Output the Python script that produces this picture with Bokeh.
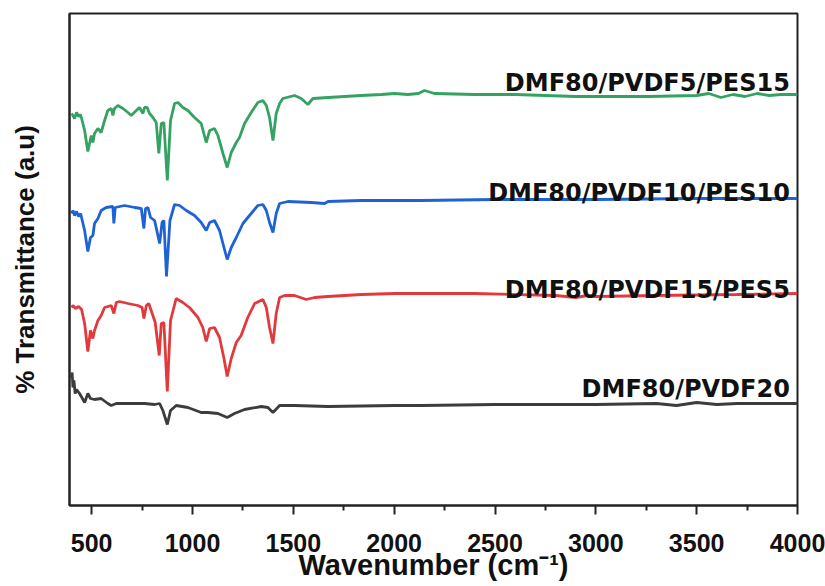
from bokeh.plotting import figure
from bokeh.models import Range1d, FixedTicker, Label
from bokeh.embed import file_html
from bokeh.resources import INLINE

# ---- data (wavenumber, stacked transmittance in a.u.) ----
wn_pes15 = [400, 407, 415, 425, 435, 445, 465, 481, 498, 506, 514, 531, 547, 564, 580, 597, 605, 613,
            630, 655, 680, 696, 721, 737, 754, 762, 775, 787, 804, 820, 833, 845, 858, 875, 891, 911,
            928, 952, 977, 1010, 1043, 1068, 1085, 1109, 1126, 1151, 1172, 1192, 1217, 1233, 1258,
            1291, 1324, 1349, 1366, 1382, 1399, 1415, 1432, 1448, 1506, 1539, 1572, 1597, 1672, 1837,
            1936, 2002, 2068, 2120, 2151, 2200, 2400, 2600, 2900, 3000, 3260, 3500, 3560, 3620, 3680,
            3740, 3800, 3860, 3920, 4000]
t_pes15 = [392, 390, 387, 393, 389, 391, 375, 354, 370, 363, 372, 377, 373, 385, 395, 397, 390, 397,
           400, 397, 393, 390, 395, 398, 392, 398, 398, 392, 388, 383, 352, 382, 383, 325, 385, 402,
           403, 398, 395, 388, 382, 363, 375, 377, 370, 352, 338, 353, 363, 368, 382,
           393, 403, 405, 400, 388, 365, 392, 402, 407, 410, 407, 401, 407, 408, 410,
           411, 412, 411, 412, 415, 412, 411, 411, 409, 409, 409, 410, 412, 408, 411,
           409, 412, 410, 411, 411]

wn_pes10 = [400, 407, 415, 425, 435, 445, 465, 481, 494, 506, 514, 531, 547, 572, 605, 610, 617, 663,
            713, 746, 759, 767, 779, 792, 812, 837, 849, 858, 871, 888, 911, 936, 969, 1010, 1043,
            1068, 1085, 1109, 1134, 1156, 1172, 1192, 1217, 1250, 1291, 1324, 1349, 1366, 1382, 1399,
            1415, 1432, 1473, 1589, 1655, 1672, 1837, 2002, 2134, 2500, 3000, 3500, 4000]
t_pes10 = [292, 295, 290, 294, 289, 292, 275, 254, 268, 270, 282, 287, 295, 298, 299, 282, 298, 300,
           298, 297, 277, 297, 298, 288, 285, 262, 283, 285, 229, 285, 301, 300, 295, 290, 283,
           275, 283, 285, 275, 258, 246, 258, 268, 282, 292, 300, 301, 295, 283, 273,
           292, 302, 304, 303, 302, 304, 305, 305, 305, 306, 306, 307, 307]

wn_pes5 = [400, 407, 420, 435, 450, 465, 481, 494, 506, 514, 531, 547, 564, 597, 610, 622, 638, 680,
           729, 750, 759, 771, 783, 795, 815, 835, 845, 858, 875, 891, 919, 952, 985, 1027, 1051,
           1068, 1085, 1109, 1134, 1156, 1172, 1192, 1217, 1241, 1274, 1308, 1349, 1366, 1382, 1399,
           1415, 1432, 1457, 1506, 1564, 1605, 1672, 1837, 2002, 2134, 2400, 2800, 2900, 2960, 3000,
           3300, 3700, 4000]
t_pes5 = [198, 200, 197, 199, 196, 182, 154, 175, 167, 175, 185, 190, 198, 200, 192, 203, 204, 202,
          200, 198, 187, 200, 202, 195, 183, 150, 182, 183, 114, 185, 207, 203, 198, 188, 178,
          164, 177, 178, 168, 147, 129, 147, 163, 170, 188, 202, 206, 198, 178, 162,
          192, 208, 210, 210, 206, 208, 209, 211, 212, 212, 212, 210, 208, 210, 209,
          210, 211, 212]

wn_pvdf20 = [400, 403, 407, 412, 418, 425, 440, 465, 481, 494, 514, 547, 580, 597, 622, 680, 762, 812,
             837, 853, 875, 891, 919, 977, 1043, 1076, 1126, 1172, 1208, 1258, 1341, 1374, 1399,
             1432, 1506, 1672, 2002, 2134, 2500, 3000, 3300, 3400, 3500, 3600, 3700, 4000]
t_pvdf20 = [128, 133, 118, 125, 112, 116, 112, 103, 112, 107, 106, 107, 102, 100, 102, 102, 102, 101,
            102, 95, 81, 95, 100, 98, 93, 93, 92, 88, 92, 96, 99, 98, 93,
            100, 100, 99, 100, 100, 101, 101, 102, 100, 103, 101, 102, 102]

series = [
    ("DMF80/PVDF5/PES15", wn_pes15, t_pes15, "#34a262", 423),
    ("DMF80/PVDF10/PES10", wn_pes10, t_pes10, "#1f62d3", 313),
    ("DMF80/PVDF15/PES5", wn_pes5, t_pes5, "#e23a3c", 216),
    ("DMF80/PVDF20", wn_pvdf20, t_pvdf20, "#3c3c3c", 117),
]

p = figure(width=825, height=586, output_backend="svg", toolbar_location=None,
           x_range=Range1d(390, 4000), y_range=Range1d(0, 492),
           min_border_left=69, min_border_right=28, min_border_top=13, min_border_bottom=81)
p.background_fill_color = "white"
p.border_fill_color = "white"
p.outline_line_color = "#222222"
p.outline_line_width = 2
p.xgrid.visible = False
p.ygrid.visible = False

for name, xs, ys, color, ly in series:
    p.line(xs, ys, line_color=color, line_width=2.8)
    p.add_layout(Label(x=3962, y=ly, text=name, text_align="right", text_baseline="alphabetic",
                       text_font="DejaVu Sans", text_font_style="bold", text_font_size="24px",
                       text_color="#111111"))

ax = p.xaxis[0]
ax.ticker = FixedTicker(ticks=[500, 1000, 1500, 2000, 2500, 3000, 3500, 4000],
                        minor_ticks=[750, 1250, 1750, 2250, 2750, 3250, 3750])
ax.axis_line_color = "#222222"
ax.axis_line_width = 2
ax.major_tick_line_color = "#222222"
ax.major_tick_line_width = 2
ax.minor_tick_line_color = "#222222"
ax.minor_tick_line_width = 2
ax.major_tick_in = 0
ax.major_tick_out = 9
ax.minor_tick_in = 0
ax.minor_tick_out = 5
ax.major_label_standoff = 19
ax.major_label_text_font = "Liberation Sans"
ax.major_label_text_font_style = "bold"
ax.major_label_text_font_size = "25px"
ax.major_label_text_color = "#111111"
ax.axis_label = "Wavenumber (cm⁻¹)"
ax.axis_label_text_font = "Liberation Sans"
ax.axis_label_text_font_style = "bold"
ax.axis_label_text_font_size = "29px"
ax.axis_label_text_color = "#111111"
ax.axis_label_standoff = -6

ay = p.yaxis[0]
ay.ticker = FixedTicker(ticks=[])
ay.axis_line_color = "#222222"
ay.axis_line_width = 2
ay.major_tick_out = 0
ay.major_tick_in = 0
ay.minor_tick_out = 0
ay.minor_tick_in = 0
ay.axis_label = "% Transmittance (a.u)"
ay.axis_label_text_font = "Liberation Sans"
ay.axis_label_text_font_style = "bold"
ay.axis_label_text_font_size = "26px"
ay.axis_label_text_color = "#111111"
ay.axis_label_standoff = 30

open("out.html", "w").write(file_html(p, INLINE))
